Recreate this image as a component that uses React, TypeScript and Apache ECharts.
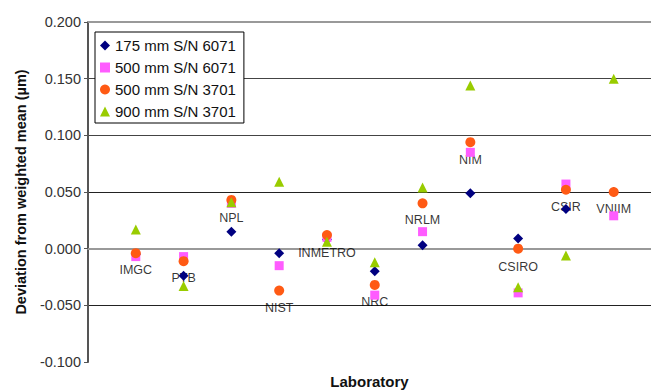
import React, { useEffect, useRef } from "react";
import * as echarts from "echarts";

const labs = ["IMGC", "PTB", "NPL", "NIST", "INMETRO", "NRC", "NRLM", "NIM", "CSIRO", "CSIR", "VNIIM"];
const s175_6071 = [-0.005, -0.024, 0.015, -0.004, 0.008, -0.020, 0.003, 0.049, 0.009, 0.035, 0.050];
const s500_6071 = [-0.007, -0.007, 0.040, -0.015, 0.010, -0.041, 0.015, 0.085, -0.039, 0.057, 0.029];
const s500_3701 = [-0.004, -0.011, 0.043, -0.037, 0.012, -0.032, 0.040, 0.094, 0.000, 0.052, 0.050];
const s900_3701 = [0.017, -0.033, 0.041, 0.059, 0.006, -0.012, 0.054, 0.144, -0.034, -0.006, 0.150];
const labelY = [-0.0185, -0.026, 0.027, -0.052, -0.0035, -0.047, 0.025, 0.078, -0.016, 0.037, 0.035];
const yTicks = { min: -0.1, max: 0.2, interval: 0.05 };

const seriesDefs = [
  { name: "175 mm S/N 6071", data: s175_6071, symbol: "diamond", size: 10, color: "#000080" },
  { name: "500 mm S/N 6071", data: s500_6071, symbol: "rect", size: 9, color: "#FF5CFF" },
  { name: "500 mm S/N 3701", data: s500_3701, symbol: "circle", size: 10, color: "#FF5A14" },
  { name: "900 mm S/N 3701", data: s900_3701, symbol: "triangle", size: 10, color: "#99CC00" },
];

export default function App() {
  const ref = useRef<HTMLDivElement>(null);
  useEffect(() => {
    document.body.style.margin = "0";
    const chart = echarts.init(ref.current!, null, { renderer: "svg" });
    const font = "Liberation Sans, Arial, sans-serif";
    chart.setOption({
      animation: false,
      backgroundColor: "#ffffff",
      textStyle: { fontFamily: font },
      grid: { left: 88, top: 22, right: 0, bottom: 28, containLabel: false, outerBoundsMode: "none" },
      legend: {
        orient: "vertical",
        left: 95,
        top: 32,
        padding: [5, 8, 3, 5],
        itemGap: 5,
        itemWidth: 10,
        itemHeight: 10,
        borderColor: "#000",
        borderWidth: 1,
        backgroundColor: "#fff",
        textStyle: { fontSize: 15, color: "#111", fontFamily: font, lineHeight: 17 },
        data: seriesDefs.map((s) => ({ name: s.name, icon: s.symbol })),
      },
      xAxis: [
        {
          type: "value",
          position: "bottom",
          min: 0,
          max: 11.78,
          axisLine: { show: true, lineStyle: { color: "#999", width: 2 } },
          axisTick: { show: false },
          axisLabel: { show: false },
          splitLine: { show: false },
          name: "Laboratory",
          nameLocation: "middle",
          nameGap: 12,
          nameTextStyle: { fontWeight: "bold", fontSize: 15, color: "#111", fontFamily: font },
        },
        {
          type: "value",
          position: "top",
          min: 0,
          max: 11.78,
          axisLine: { show: true, lineStyle: { color: "#999", width: 2 } },
          axisTick: { show: false },
          axisLabel: { show: false },
          splitLine: { show: false },
        },
      ],
      yAxis: {
        type: "value",
        min: yTicks.min,
        max: yTicks.max,
        interval: yTicks.interval,
        axisLine: { show: true, lineStyle: { color: "#555", width: 2 } },
        axisTick: { show: true, length: 4, lineStyle: { color: "#555" } },
        axisLabel: {
          formatter: (v: number) => v.toFixed(3),
          fontSize: 14.5,
          color: "#333",
          margin: 7,
          fontFamily: font,
        },
        splitLine: {
          show: true,
          lineStyle: { color: ["transparent", "#222", "#222", "#222", "#444", "#444", "transparent"], width: 1 },
        },
        name: "Deviation from weighted mean (µm)",
        nameLocation: "middle",
        nameGap: 60,
        nameTextStyle: { fontWeight: "bold", fontSize: 14.5, color: "#111", fontFamily: font },
      },
      series: [
        {
          type: "scatter",
          name: "labels",
          symbolSize: 0,
          silent: true,
          z: 1,
          data: labs.map((n, i) => ({ value: [i + 1, labelY[i]], name: n })),
          label: {
            show: true,
            position: "inside",
            formatter: "{b}",
            fontSize: 12.5,
            color: "#000",
            fontFamily: font,
          },
        },
        ...seriesDefs.map((s, k) => ({
          type: "scatter",
          name: s.name,
          symbol: s.symbol,
          symbolSize: s.size,
          itemStyle: { color: s.color, opacity: 1 },
          z: 2 + k,
          data: s.data.map((v, i) => [i + 1, v]),
        })),
      ],
    });
    return () => chart.dispose();
  }, []);
  return <div ref={ref} style={{ width: 651, height: 390 }} />;
}
